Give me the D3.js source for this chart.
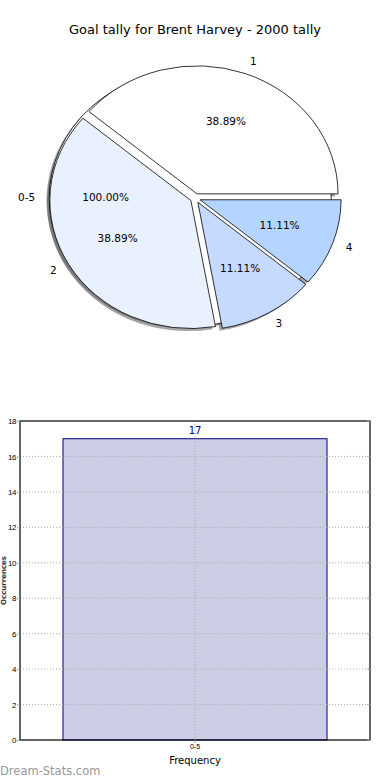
<!DOCTYPE html>
<html>
<head>
<meta charset="utf-8">
<script src="https://cdn.jsdelivr.net/npm/d3@7"></script>
<style>
  body { margin: 0; background: #fff; }
  svg { display: block; font-family: "DejaVu Sans", sans-serif; }
</style>
</head>
<body>
<div id="chart"></div>
<script>
'use strict';

// pie data (goals per game, 2000 season)
var titleText    = "Goal tally for Brent Harvey - 2000 tally";
var pieLabels    = ["1", "2", "3", "4"];
var pieValues    = [7, 7, 2, 2];
var pieColors    = ["#ffffff", "#eaf1fe", "#c6d9ff", "#b4d5ff"];
var rangeLabels  = ["0-5"];
var rangeValues  = [18];
var rangeColors  = ["#ffffff"];

// bar data
var barCategories = ["0-5"];
var barValues     = [17];
var yTicks        = [0, 2, 4, 6, 8, 10, 12, 14, 16, 18];
var xTitle        = "Frequency";
var yTitle        = "Occurrences";

var W = 390, H = 780;

var svg = d3.select("#chart").append("svg")
    .attr("width", W)
    .attr("height", H);

svg.append("text")
    .attr("x", 195).attr("y", 30)
    .attr("text-anchor", "middle")
    .attr("dominant-baseline", "middle")
    .style("font-size", "13px")
    .text(titleText);

// ---------------- pie ----------------
var cx = 195.3, cy = 198.2, rx = 141, ry = 128;
var explode = 0.036, shadowOff = 0.02;

var pie = d3.pie()
    .sort(null)
    .startAngle(Math.PI / 2)
    .endAngle(Math.PI / 2 - 2 * Math.PI);

var unitArc = d3.arc().innerRadius(0).outerRadius(1);

function build(values, labels, colors) {
    return pie(values).map(function(d, i) {
        var m = (d.startAngle + d.endAngle) / 2;
        var ux = Math.sin(m), uy = -Math.cos(m);
        return {
            arc: d,
            label: labels[i],
            color: colors[i],
            pct: d3.format(".2f")(100 * d.value / d3.sum(values)) + "%",
            ux: ux, uy: uy,
            ox: cx + explode * rx * ux,
            oy: cy + explode * ry * uy
        };
    });
}

var wedges = build(rangeValues, rangeLabels, rangeColors)
    .concat(build(pieValues, pieLabels, pieColors));

var gPie = svg.append("g");

// shadows below every wedge
gPie.selectAll(".shadow")
    .data(wedges)
    .enter().append("path")
    .attr("class", "shadow")
    .attr("transform", function(d) {
        return "translate(" + [d.ox - shadowOff * rx, d.oy + shadowOff * ry] + ") scale(" + rx + "," + ry + ")";
    })
    .attr("d", function(d) { return unitArc(d.arc); })
    .style("fill", "#4d4d4d")
    .style("fill-opacity", 0.5);

gPie.selectAll(".wedge")
    .data(wedges)
    .enter().append("path")
    .attr("class", "wedge")
    .attr("transform", function(d) {
        return "translate(" + [d.ox, d.oy] + ") scale(" + rx + "," + ry + ")";
    })
    .attr("d", function(d) { return unitArc(d.arc); })
    .attr("vector-effect", "non-scaling-stroke")
    .style("fill", function(d) { return d.color; })
    .style("stroke", "#000")
    .style("stroke-width", 0.8)
    .style("stroke-linejoin", "round");

gPie.selectAll(".lbl")
    .data(wedges)
    .enter().append("text")
    .attr("class", "lbl")
    .attr("x", function(d) { return d.ox + 1.1 * rx * d.ux; })
    .attr("y", function(d) { return d.oy + 1.1 * ry * d.uy; })
    .attr("text-anchor", function(d) { return d.ux < 0 ? "end" : "start"; })
    .attr("dominant-baseline", "middle")
    .style("font-size", "10.5px")
    .text(function(d) { return d.label; });

gPie.selectAll(".pct")
    .data(wedges)
    .enter().append("text")
    .attr("class", "pct")
    .attr("x", function(d) { return d.ox + 0.6 * rx * d.ux; })
    .attr("y", function(d) { return d.oy + 0.6 * ry * d.uy; })
    .attr("text-anchor", "middle")
    .attr("dominant-baseline", "middle")
    .style("font-size", "10.5px")
    .text(function(d) { return d.pct; });

// ---------------- bar chart ----------------
var margin = {left: 20, right: 20, top: 421, bottom: 40};
var x = d3.scaleBand()
    .domain(barCategories)
    .range([margin.left, W - margin.right])
    .paddingInner(0.14)
    .paddingOuter(0.14);
var y = d3.scaleLinear()
    .domain([0, 18])
    .range([H - margin.bottom, margin.top]);

var gBar = svg.append("g");

gBar.selectAll(".bar")
    .data(barValues)
    .enter().append("rect")
    .attr("class", "bar")
    .attr("x", function(d, i) { return x(barCategories[i]); })
    .attr("y", function(d) { return y(d); })
    .attr("width", x.bandwidth())
    .attr("height", function(d) { return y(0) - y(d); })
    .style("fill", "#ccccE5")
    .style("stroke", "#000080")
    .style("stroke-width", 1);

// dotted grid
gBar.selectAll(".hgrid")
    .data(yTicks.slice(1, -1))
    .enter().append("line")
    .attr("x1", margin.left).attr("x2", W - margin.right)
    .attr("y1", function(d) { return y(d); })
    .attr("y2", function(d) { return y(d); })
    .style("stroke", "#aaa")
    .style("stroke-dasharray", "1,2");

gBar.selectAll(".vgrid")
    .data(barCategories)
    .enter().append("line")
    .attr("x1", function(d) { return x(d) + x.bandwidth() / 2; })
    .attr("x2", function(d) { return x(d) + x.bandwidth() / 2; })
    .attr("y1", y(0)).attr("y2", margin.top)
    .style("stroke", "#aaa")
    .style("stroke-dasharray", "1,2");

// frame
gBar.append("rect")
    .attr("x", margin.left).attr("y", margin.top)
    .attr("width", W - margin.left - margin.right)
    .attr("height", y(0) - margin.top)
    .style("fill", "none")
    .style("stroke", "#000")
    .style("stroke-width", 1.2);

var yAxis = d3.axisLeft(y).tickValues(yTicks).tickSize(3).tickPadding(1);
var gy = gBar.append("g")
    .attr("transform", "translate(" + margin.left + ",0)")
    .call(yAxis);
gy.select(".domain").remove();
gy.selectAll("line").style("stroke", "#aaa");
gy.selectAll("text").style("font-size", "8px").style("letter-spacing", "-0.4px");

// inner ticks on right side
gBar.selectAll(".rtick")
    .data(yTicks)
    .enter().append("line")
    .attr("x1", W - margin.right - 3).attr("x2", W - margin.right)
    .attr("y1", function(d) { return y(d); })
    .attr("y2", function(d) { return y(d); })
    .style("stroke", "#aaa");

var xAxis = d3.axisBottom(x).tickSize(3).tickPadding(1);
var gx = gBar.append("g")
    .attr("transform", "translate(0," + y(0) + ")")
    .call(xAxis);
gx.select(".domain").remove();
gx.selectAll("line").style("stroke", "#aaa");
gx.selectAll("text").style("font-size", "7px");

gBar.selectAll(".val")
    .data(barValues)
    .enter().append("text")
    .attr("x", function(d, i) { return x(barCategories[i]) + x.bandwidth() / 2; })
    .attr("y", function(d) { return y(d) - 8; })
    .attr("text-anchor", "middle")
    .attr("dominant-baseline", "middle")
    .style("fill", "#000080")
    .style("font-size", "10px")
    .text(function(d) { return d; });

gBar.append("text")
    .attr("x", 195).attr("y", 761)
    .attr("text-anchor", "middle")
    .attr("dominant-baseline", "middle")
    .style("font-size", "10px")
    .text(xTitle);

gBar.append("text")
    .attr("transform", "translate(5.5," + (margin.top + y(0)) / 2 + ") rotate(-90)")
    .attr("text-anchor", "middle")
    .style("font-size", "7px")
    .style("font-weight", "bold")
    .style("fill", "#333")
    .text(yTitle);

svg.append("text")
    .attr("x", 0).attr("y", 775)
    .style("font-size", "11.5px")
    .style("fill", "#999")
    .text("Dream-Stats.com");
</script>
</body>
</html>
